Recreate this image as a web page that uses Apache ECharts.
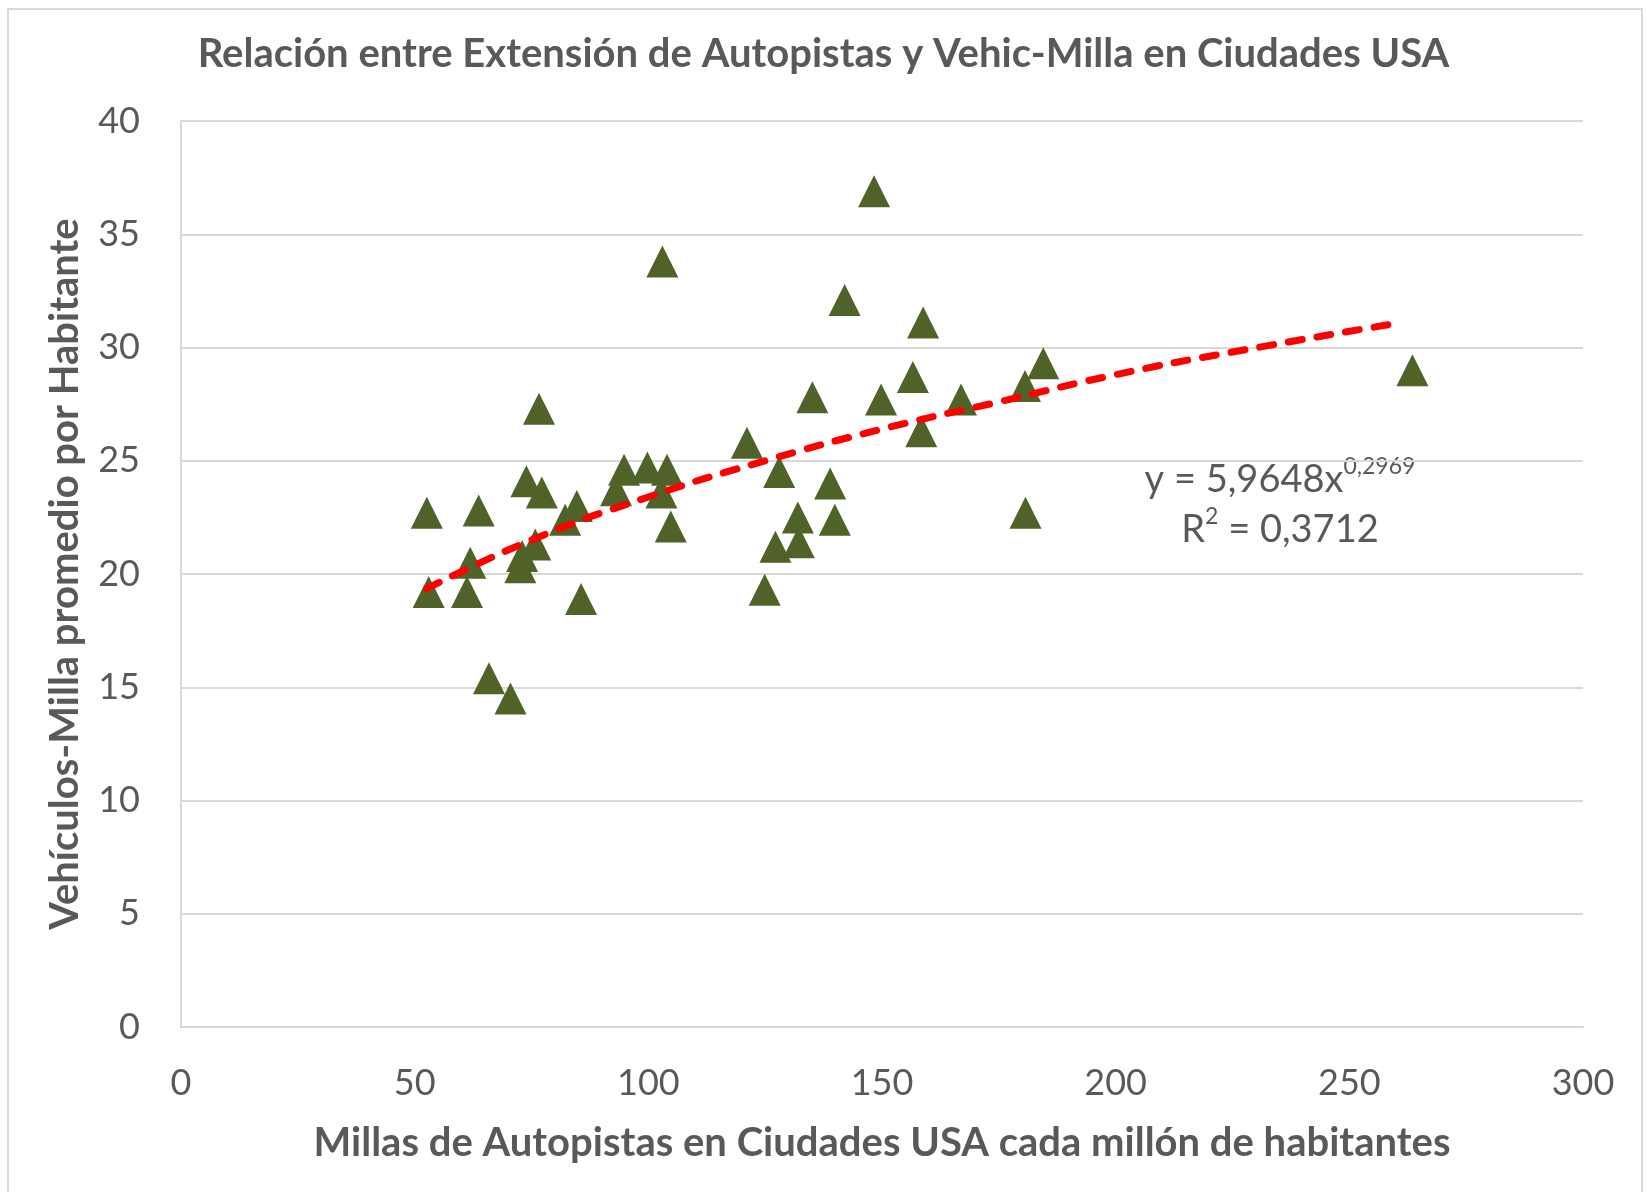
<!DOCTYPE html>
<html>
<head>
<meta charset="utf-8">
<title>Autopistas vs Vehic-Milla</title>
<script src="https://cdn.jsdelivr.net/npm/echarts@6/dist/echarts.min.js"></script>
<style>
  html, body { margin: 0; padding: 0; background: #fff; overflow: hidden; }
  #chart { width: 1647px; height: 1192px; }
  #frame {
    position: absolute; left: 7px; top: 8px; width: 1632px; height: 1200px;
    border: 2px solid #d9d9d9; pointer-events: none;
  }
</style>
</head>
<body>
<div id="chart"></div>
<div id="frame"></div>
<script>
// millas de autopista por millón de habitantes (eje X)
const millas = [
  52.6, 53.0, 61.2, 61.9, 63.7, 65.9, 70.5, 72.6, 73.0, 73.9, 75.8,
  76.6, 77.2, 82.2, 84.7, 85.6, 93.1, 94.8, 99.8, 102.8, 103.0, 104.0,
  104.8, 121.1, 124.9, 127.2, 128.0, 132.0, 132.2, 135.1, 138.9, 139.9,
  142.0, 148.3, 149.8, 156.6, 158.4, 158.8, 166.9, 180.6, 180.7, 184.5, 263.5
]
// vehículos-milla promedio por habitante (eje Y)
const vehMilla = [
  22.7, 19.2, 19.2, 20.5, 22.8, 15.4, 14.5, 20.3, 20.8, 24.1, 21.3,
  27.3, 23.6, 22.4, 23.0, 18.9, 23.7, 24.6, 24.7, 23.6, 33.8, 24.6,
  22.1, 25.8, 19.3, 21.2, 24.5, 22.5, 21.4, 27.8, 24.0, 22.4,
  32.1, 36.9, 27.7, 28.7, 26.3, 31.1, 27.7, 28.3, 22.7, 29.3, 29.0
]
// línea de tendencia potencial
const trendX = [52.6, 75, 100, 125, 150, 175, 200, 225, 261]
const trendY = [19.35, 21.5, 23.4, 25.0, 26.4, 27.6, 28.8, 29.8, 31.1]

const titulo = 'Relación entre Extensión de Autopistas y Vehic-Milla en Ciudades USA'
const nombreX = 'Millas de Autopistas en Ciudades USA cada millón de habitantes'
const nombreY = 'Vehículos-Milla promedio por Habitante'

const gris = '#595959'
const linea = '#d9d9d9'
const fuente = 'Lato'

const chart = echarts.init(document.getElementById('chart'))

const nombreEstilo = { fontFamily: fuente, fontSize: 40, fontWeight: 'bold', color: gris }

const option = {
  animation: false,
  backgroundColor: '#fff',
  title: {
    text: titulo,
    left: 'center',
    top: 29,
    textStyle: nombreEstilo
  },
  grid: { left: 181, right: 64, top: 121, bottom: 165 },
  xAxis: {
    type: 'value',
    min: 0,
    max: 300,
    interval: 50,
    name: nombreX,
    nameLocation: 'middle',
    nameGap: 96,
    nameTextStyle: nombreEstilo,
    axisLine: { show: true, lineStyle: { color: linea, width: 2 } },
    axisTick: { show: false },
    axisLabel: { margin: 38, fontFamily: fuente, fontSize: 36, color: gris },
    splitLine: { show: false }
  },
  yAxis: {
    type: 'value',
    min: 0,
    max: 40,
    interval: 5,
    name: nombreY,
    nameLocation: 'middle',
    nameGap: 96,
    nameTextStyle: nombreEstilo,
    axisLine: { show: true, lineStyle: { color: linea, width: 2 } },
    axisTick: { show: false },
    axisLabel: { margin: 41, fontFamily: fuente, fontSize: 36, color: gris },
    splitLine: { show: true, lineStyle: { color: linea, width: 2 } }
  },
  series: [
    {
      type: 'scatter',
      symbol: 'triangle',
      symbolSize: 32,
      itemStyle: { color: '#4f6228', opacity: 1 },
      data: millas.map((m, i) => [m, vehMilla[i]])
    },
    {
      type: 'line',
      smooth: true,
      showSymbol: false,
      z: 5,
      lineStyle: { color: '#ff0000', width: 7, type: [14, 15], cap: 'round' },
      data: trendX.map((x, i) => [x, trendY[i]])
    }
  ],
  graphic: [{
    type: 'text',
    x: 1280,
    y: 505,
    style: {
      text: '{m|y = 5,9648x}{s|0,2969}\n{m|R}{s|2}{m| = 0,3712}',
      align: 'center',
      verticalAlign: 'middle',
      rich: {
        m: { fontFamily: fuente, fontSize: 38, fill: gris, lineHeight: 50 },
        s: { fontFamily: fuente, fontSize: 23, fill: gris, lineHeight: 30, verticalAlign: 'top' }
      }
    }
  }]
}

chart.setOption(option)
</script>
</body>
</html>
